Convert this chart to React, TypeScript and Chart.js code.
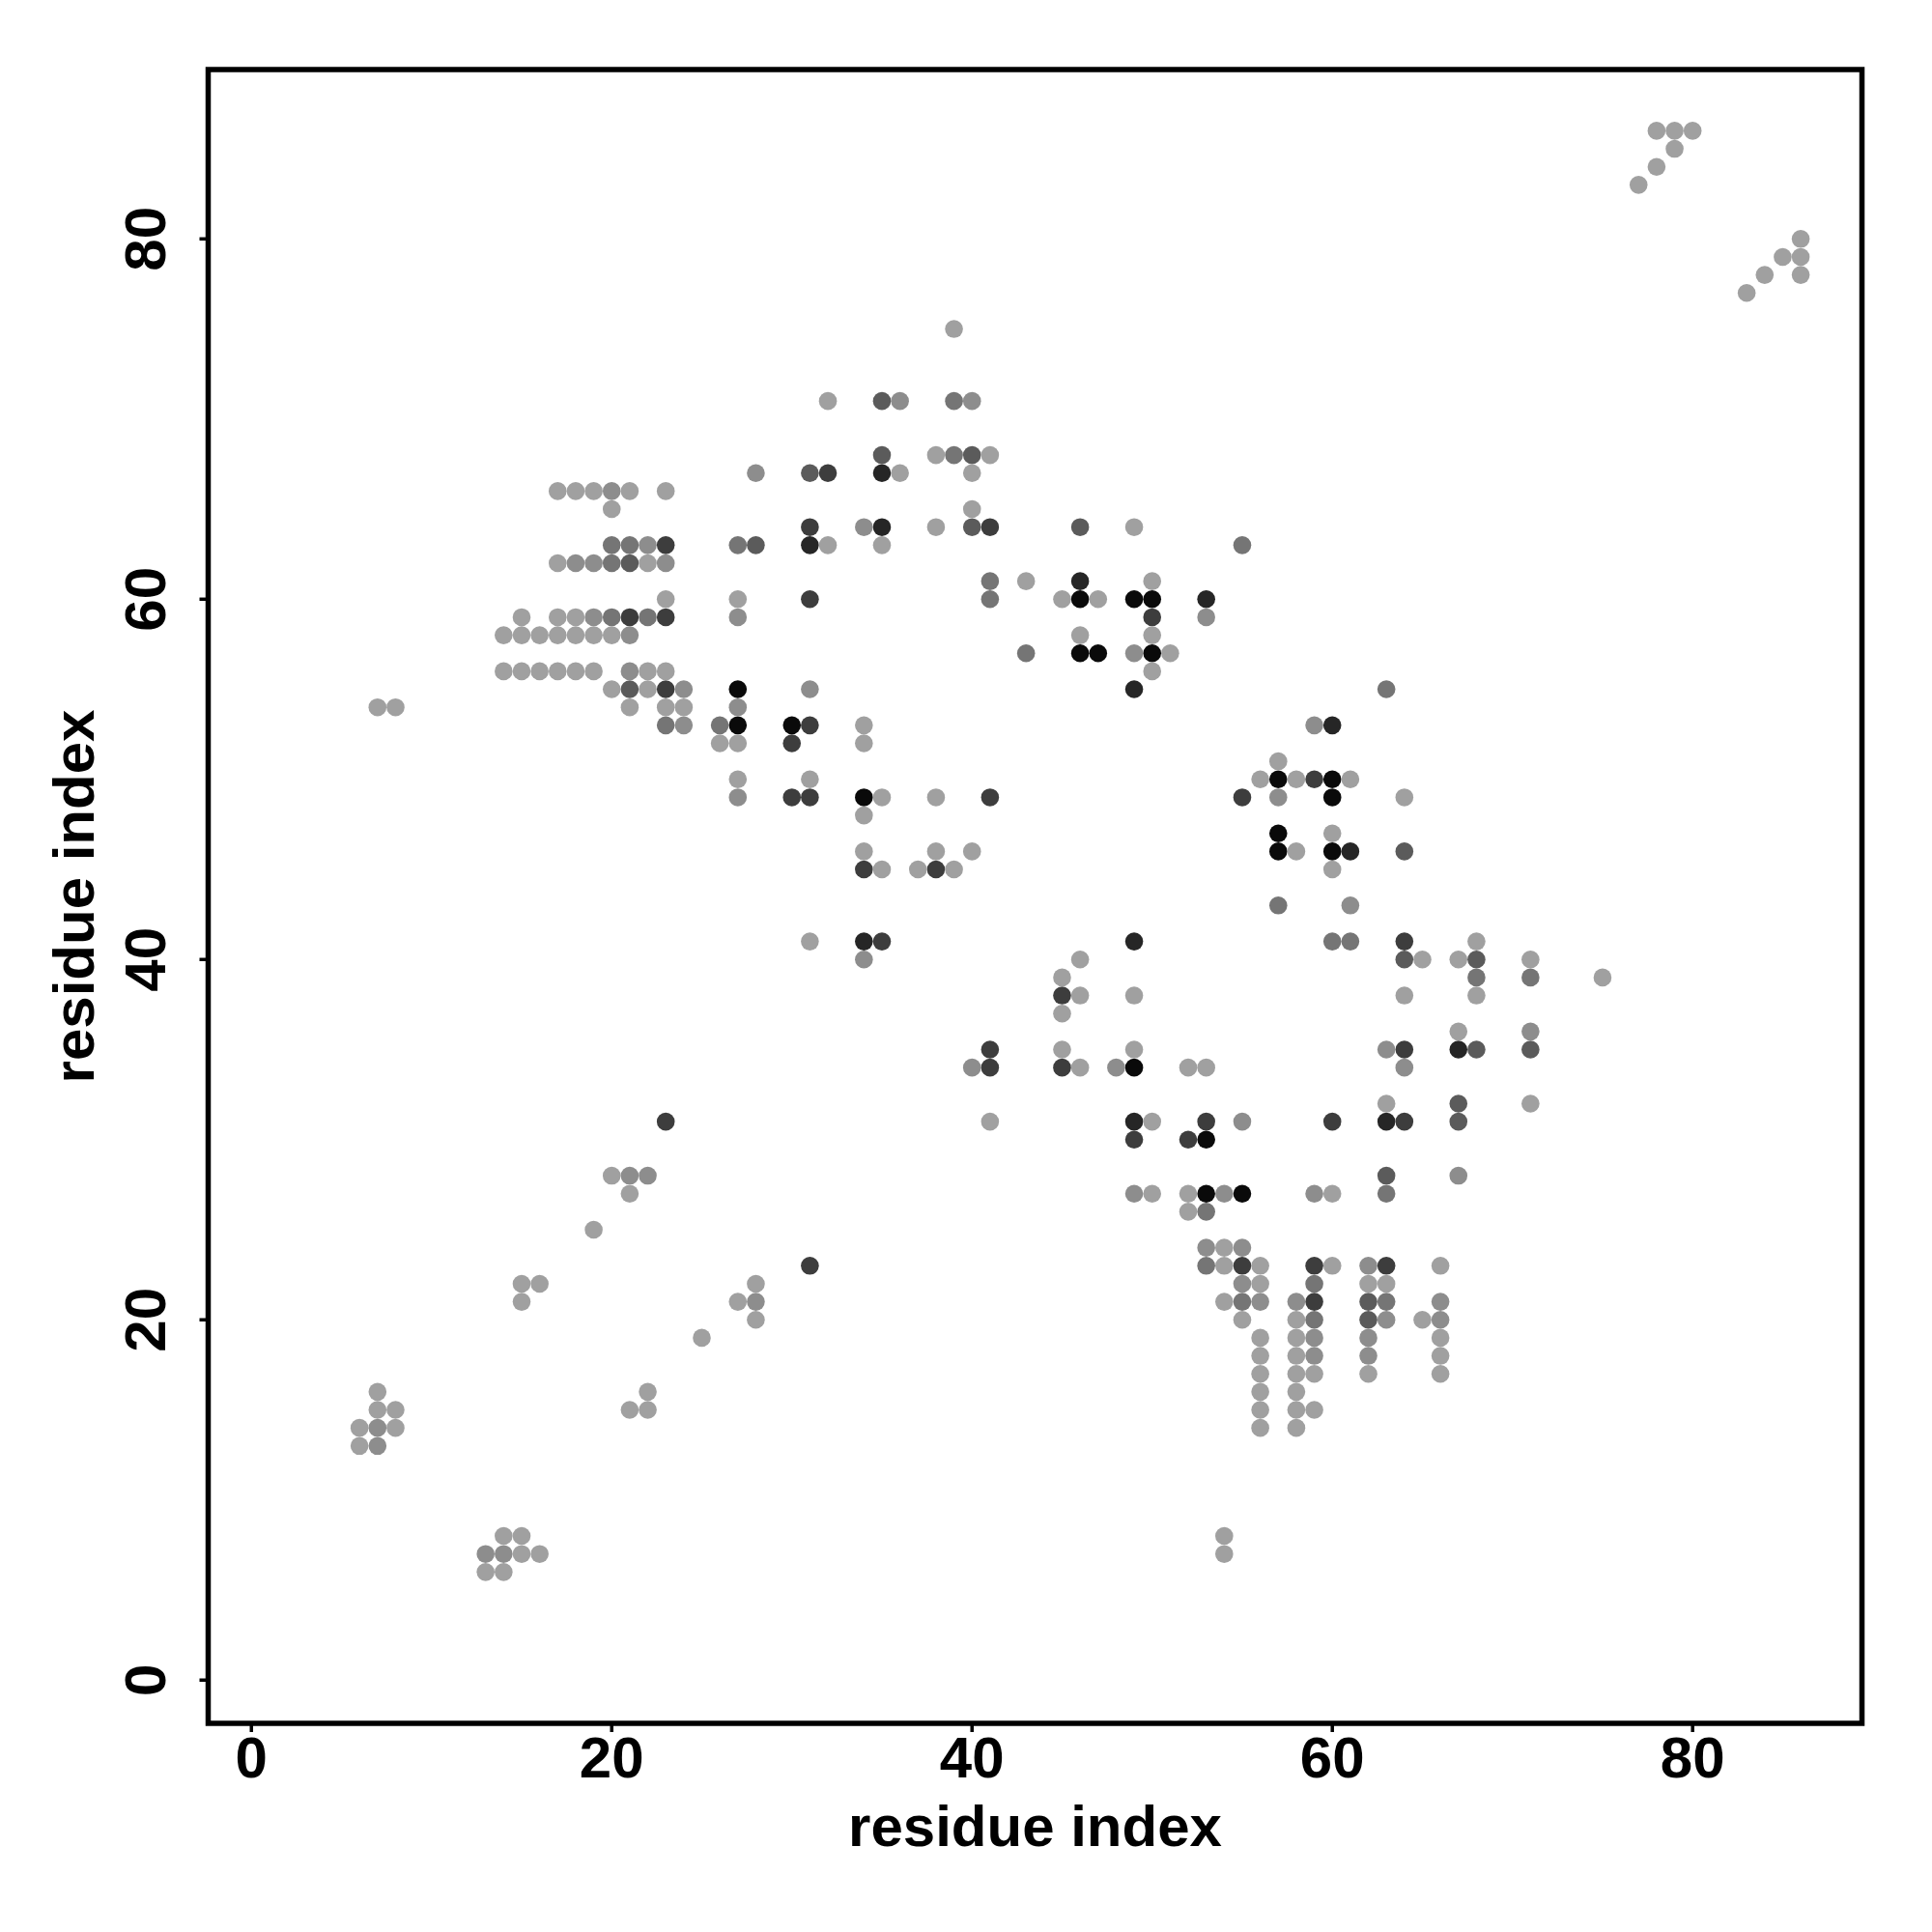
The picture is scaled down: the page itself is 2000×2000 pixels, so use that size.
import React, { useEffect, useRef } from "react";
import { Chart, registerables } from "chart.js";

Chart.register(...registerables);

// ---- axis settings ----
const AXIS_MIN = -2.4;
const AXIS_MAX = 89.4;
const tickValues = [0, 20, 40, 60, 80];
const xTitle = "residue index";
const yTitle = "residue index";

// ---- contact points, grouped by grey level (1 = lightest, 7 = black) ----
const level1: [number, number][] = [
  [17, 66], [18, 66], [19, 66], [21, 66], [23, 66], [20, 65], [32, 63], [17, 62], [22, 62],
  [23, 60], [27, 60], [15, 59], [17, 59], [18, 59], [14, 58], [15, 58], [16, 58], [17, 58],
  [18, 58], [19, 58], [20, 58], [14, 56], [15, 56], [16, 56], [17, 56], [18, 56], [19, 56],
  [22, 56], [23, 56], [20, 55], [22, 55], [7, 54], [8, 54], [21, 54], [23, 54], [24, 54],
  [34, 53], [26, 52], [27, 52], [34, 52], [27, 50], [31, 50], [34, 48], [34, 46],
  [39, 75], [32, 71], [38, 68], [41, 68], [36, 67], [40, 67], [40, 65], [38, 64], [49, 64],
  [35, 63], [43, 61], [50, 61], [45, 60], [47, 60], [46, 58], [50, 58], [51, 57],
  [50, 56], [57, 51], [56, 50], [35, 49], [38, 49], [38, 46], [40, 46], [35, 45], [37, 45],
  [39, 45], [46, 40], [45, 39], [46, 38], [49, 38], [45, 37], [45, 35], [49, 35], [46, 34],
  [52, 34], [53, 34], [31, 41],
  [58, 50], [61, 50], [64, 49], [60, 47], [58, 46], [60, 45], [68, 41], [65, 40], [67, 40],
  [71, 40], [75, 39], [64, 38], [68, 38], [67, 36],
  [63, 32], [71, 32], [60, 27], [56, 23], [60, 23], [66, 23], [56, 22], [62, 22], [63, 22],
  [58, 20], [65, 20], [56, 19], [58, 19], [66, 19], [56, 18], [58, 18], [66, 18], [56, 17],
  [58, 17], [59, 17], [62, 17], [66, 17], [56, 16], [58, 16], [56, 15], [58, 15], [59, 15],
  [56, 14], [58, 14],
  [41, 31], [50, 31], [50, 27], [52, 27], [52, 26], [54, 24], [54, 23], [54, 21], [55, 20],
  [54, 8], [54, 7],
  [20, 28], [21, 27], [19, 25], [15, 22], [16, 22], [28, 22], [15, 21], [27, 21], [28, 20],
  [25, 19], [7, 16], [22, 16], [7, 15], [8, 15], [21, 15], [22, 15], [6, 14], [8, 14],
  [6, 13], [14, 8], [15, 8], [15, 7], [16, 7], [13, 6], [14, 6],
  [78, 86], [79, 86], [80, 86], [79, 85], [78, 84], [77, 83], [86, 80], [85, 79], [86, 79],
  [84, 78], [86, 78], [83, 77],
];

const level2: [number, number][] = [
  [28, 67], [20, 66], [34, 64], [22, 63], [18, 62], [19, 62], [23, 62], [19, 59], [27, 59],
  [21, 58], [21, 56], [24, 55], [31, 55], [27, 54], [24, 53], [27, 49],
  [36, 71], [40, 71], [49, 57], [53, 59],
  [57, 49], [34, 40], [40, 34], [48, 34],
  [59, 53], [61, 43], [71, 36], [63, 35], [64, 34],
  [67, 28], [59, 27], [62, 23], [56, 21], [58, 21], [66, 21], [63, 20], [66, 20], [59, 19],
  [62, 19], [59, 18], [62, 18],
  [55, 31], [49, 27], [54, 27], [53, 24], [55, 24], [55, 22],
  [21, 28], [22, 28], [28, 21], [7, 14], [7, 13], [13, 7], [14, 7],
];

const level3: [number, number][] = [
  [20, 63], [21, 63], [27, 63], [20, 62], [20, 59], [22, 59], [23, 53], [26, 53],
  [39, 71], [39, 68], [55, 63], [41, 61], [41, 60], [43, 57],
  [57, 43], [63, 55], [60, 41], [61, 41], [68, 39], [71, 39],
  [63, 27], [59, 22], [63, 21], [59, 20],
  [53, 26], [53, 23], [55, 21],
];

const level4: [number, number][] = [
  [31, 67], [28, 63], [21, 62], [21, 55],
  [35, 71], [35, 68], [40, 68], [40, 64], [46, 64],
  [64, 46], [64, 40], [68, 40], [68, 35], [71, 35],
  [67, 32], [67, 31], [63, 28], [62, 21], [62, 20],
];

const level5: [number, number][] = [
  [32, 67], [31, 64], [23, 63], [31, 60], [21, 59], [23, 59], [23, 55], [31, 53], [30, 52],
  [30, 49], [31, 49],
  [41, 64], [50, 59],
  [41, 49], [55, 49], [34, 45], [38, 45], [35, 41], [45, 38], [41, 35], [41, 34], [45, 34],
  [59, 50], [64, 41], [64, 35],
  [60, 31], [64, 31], [59, 23], [63, 23], [59, 21],
  [53, 31], [49, 30], [52, 30], [55, 23],
  [23, 31], [31, 23],
];

const level6: [number, number][] = [
  [31, 63], [35, 67], [35, 64], [46, 61], [53, 60],
  [49, 55], [34, 41], [49, 41],
  [60, 53], [61, 46], [67, 35],
  [63, 31], [49, 31],
];

const level7: [number, number][] = [
  [27, 55], [27, 53], [30, 53], [34, 49],
  [46, 60], [49, 60], [50, 60], [46, 57], [47, 57], [50, 57],
  [57, 50], [60, 50], [60, 49], [57, 47], [57, 46], [60, 46],
  [49, 34], [53, 30], [53, 27], [55, 27],
];

const levels = [level1, level2, level3, level4, level5, level6, level7];
const greys = ["#a0a0a0", "#8d8d8d", "#757575", "#5b5b5b", "#3d3d3d", "#262626", "#0a0a0a"];

const FONT = 'bold 60px "Liberation Sans", Arial, Helvetica, sans-serif';

const framePlugin = {
  id: "rFrame",
  afterDraw(chart: any) {
    const { ctx, chartArea } = chart;
    const { left, right, top, bottom } = chartArea;
    const xs = chart.scales.x;
    const ys = chart.scales.y;
    ctx.save();
    ctx.strokeStyle = "#000";
    ctx.fillStyle = "#000";
    // box
    ctx.lineWidth = 5.5;
    ctx.strokeRect(left, top, right - left, bottom - top);
    // ticks
    ctx.lineWidth = 3.5;
    ctx.lineCap = "butt";
    for (const v of tickValues) {
      const px = xs.getPixelForValue(v);
      ctx.beginPath();
      ctx.moveTo(px, bottom);
      ctx.lineTo(px, bottom + 9);
      ctx.stroke();
      const py = ys.getPixelForValue(v);
      ctx.beginPath();
      ctx.moveTo(left, py);
      ctx.lineTo(left - 9, py);
      ctx.stroke();
    }
    // tick labels
    ctx.font = FONT;
    ctx.textAlign = "center";
    ctx.textBaseline = "alphabetic";
    for (const v of tickValues) {
      ctx.fillText(String(v), xs.getPixelForValue(v), bottom + 56);
    }
    for (const v of tickValues) {
      ctx.save();
      ctx.translate(left - 45, ys.getPixelForValue(v));
      ctx.rotate(-Math.PI / 2);
      ctx.fillText(String(v), 0, 0);
      ctx.restore();
    }
    // titles
    ctx.fillText(xTitle, (left + right) / 2, bottom + 127);
    ctx.save();
    ctx.translate(left - 119, (top + bottom) / 2);
    ctx.rotate(-Math.PI / 2);
    ctx.fillText(yTitle, 0, 0);
    ctx.restore();
    ctx.restore();
  },
};

export default function App() {
  const canvasRef = useRef<HTMLCanvasElement | null>(null);

  useEffect(() => {
    const canvas = canvasRef.current;
    if (!canvas) return;
    const datasets = levels.map((pts, i) => ({
      label: `level ${i + 1}`,
      data: pts.map(([x, y]) => ({ x, y })),
      backgroundColor: greys[i],
      borderWidth: 0,
      pointRadius: 9.3,
      pointHoverRadius: 9.3,
      pointBorderWidth: 0,
    }));
    const chart = new Chart(canvas, {
      type: "scatter",
      data: { datasets },
      options: {
        animation: false,
        responsive: false,
        devicePixelRatio: 1,
        events: [],
        layout: { padding: { left: 215.5, top: 72, right: 72.5, bottom: 216 } },
        plugins: { legend: { display: false }, tooltip: { enabled: false } },
        scales: {
          x: { type: "linear", min: AXIS_MIN, max: AXIS_MAX, display: false },
          y: { type: "linear", min: AXIS_MIN, max: AXIS_MAX, display: false },
        },
      },
      plugins: [framePlugin],
    });
    return () => chart.destroy();
  }, []);

  return (
    <div style={{ position: "absolute", left: 0, top: 0, width: 2000, height: 2000, background: "#fff" }}>
      <canvas ref={canvasRef} width={2000} height={2000} />
    </div>
  );
}
